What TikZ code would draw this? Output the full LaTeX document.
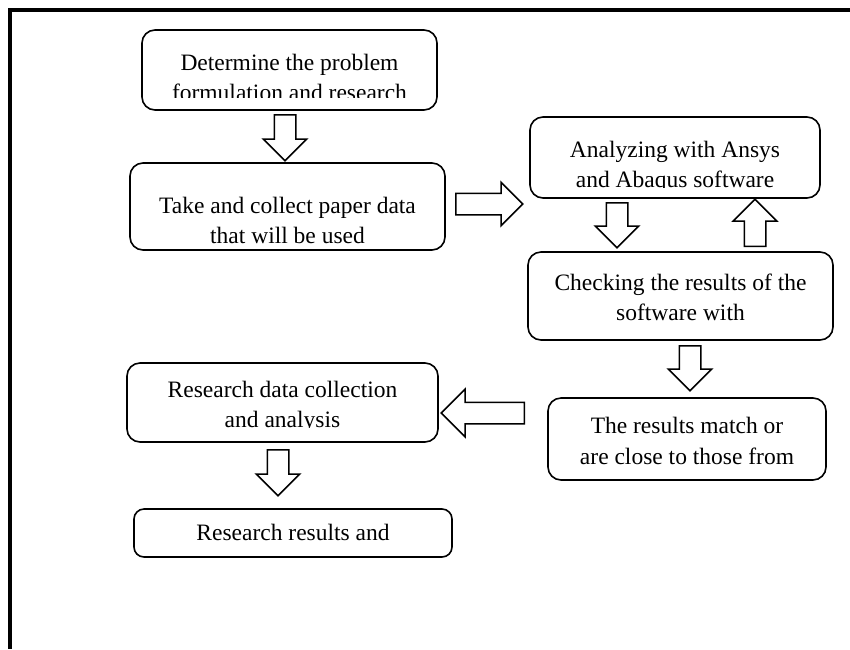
\documentclass[tikz,border=0pt]{standalone}
\usepackage{fontspec}
\setmainfont{Liberation Serif}
\usetikzlibrary{shapes.arrows}
\begin{document}
\begin{tikzpicture}[x=1pt,y=-1pt,
  box/.style={draw, line width=1.6pt, rounded corners=13pt, inner sep=0pt},
  txt/.style={anchor=base, inner sep=0pt, font=\fontsize{23.5}{30}\selectfont},
  barrow/.style={single arrow, draw, line width=1.5pt, fill=white, minimum width=0pt,
    single arrow head extend=11pt, single arrow tip angle=90, minimum height=#1,
    inner sep=10pt, anchor=tail},
  frameline/.style={line width=4pt}
]
\useasboundingbox (0,0) rectangle (850,649);
% frame
\draw[frameline] (8,10) -- (850,10);
\draw[frameline] (10,8) -- (10,649);

% boxes
\node[box, minimum width=295pt, minimum height=80pt] (b1) at (289.5,70) {};
\node[box, minimum width=315pt, minimum height=87pt] (b2) at (287.5,206.5) {};
\node[box, minimum width=290pt, minimum height=81pt] (b3) at (675,157.5) {};
\node[box, minimum width=305pt, minimum height=88pt] (b4) at (680.5,296) {};
\node[box, minimum width=278pt, minimum height=82pt] (b5) at (687,439) {};
\node[box, minimum width=311pt, minimum height=79pt] (b6) at (282.5,402.5) {};
\node[box, minimum width=318pt, minimum height=48pt, rounded corners=10pt] (b7) at (293,533) {};

% texts
\node[txt] (t1a) at (289.5,70) {Determine the problem};
\begin{scope}
  \clip (b1.west |- 0,80) rectangle (b1.east |- 0,97.5);
  \node[txt] (t1b) at (289.5,100) {formulation and research};
\end{scope}
\node[txt] (t2a) at (287.5,213) {Take and collect paper data};
\node[txt] (t2b) at (287.5,243) {that will be used};
\node[txt] (t3a) at (675,157) {Analyzing with Ansys};
\begin{scope}
  \clip (b3.west |- 0,165) rectangle (b3.east |- 0,187.8);
  \node[txt] (t3b) at (675,187) {and Abaqus software};
\end{scope}
\node[txt] (t4a) at (680.5,290) {Checking the results of the};
\node[txt] (t4b) at (680.5,320) {software with};
\node[txt] (t5a) at (687,433) {The results match or};
\node[txt] (t5b) at (687,464) {are close to those from};
\node[txt] (t6a) at (282.5,397) {Research data collection};
\begin{scope}
  \clip (b6.west |- 0,405) rectangle (b6.east |- 0,427.6);
  \node[txt] (t6b) at (282.5,427) {and analysis};
\end{scope}
\node[txt] (t7) at (293,540) {Research results and};

% block arrows
\node[barrow=46pt, shape border rotate=270] (a1) at (285,114) {};
\node[barrow=67pt, shape border rotate=0] (a2) at (455,204) {};
\node[barrow=45pt, shape border rotate=270] (a3) at (617,202) {};
\node[barrow=47pt, shape border rotate=90] (a4) at (755,247) {};
\node[barrow=45pt, shape border rotate=270] (a5) at (690,345) {};
\node[barrow=83pt, shape border rotate=180, single arrow head extend=13pt] (a6) at (525,413) {};
\node[barrow=46pt, shape border rotate=270] (a7) at (278,449) {};
\end{tikzpicture}
\end{document}
